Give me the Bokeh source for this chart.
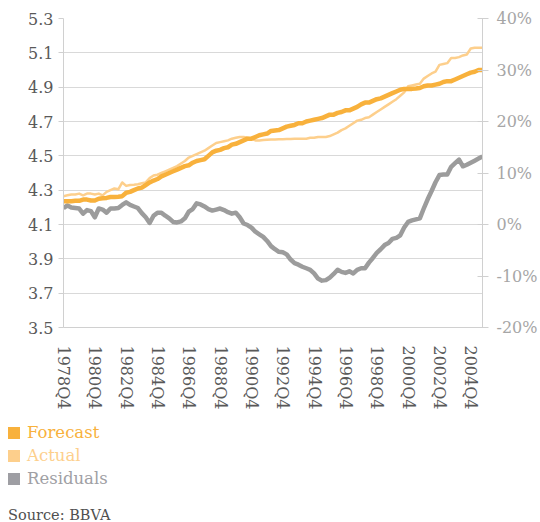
from bokeh.plotting import figure
from bokeh.models import Range1d, LinearAxis, FixedTicker, PrintfTickFormatter, Div
from bokeh.layouts import column
from bokeh.embed import file_html
from bokeh.resources import INLINE

# ---- data (quarterly, 1978Q4 .. 2005Q3) ----
forecast = [4.236, 4.236, 4.236, 4.238, 4.238, 4.245, 4.245, 4.24, 4.24, 4.25,
            4.253, 4.255, 4.26, 4.26, 4.262, 4.265, 4.285, 4.29, 4.30,
            4.31, 4.315, 4.33, 4.345, 4.356, 4.365, 4.38, 4.39, 4.40, 4.41,
            4.42, 4.43, 4.44, 4.445, 4.46, 4.47, 4.475, 4.48, 4.50, 4.52,
            4.53, 4.535, 4.545, 4.55, 4.565, 4.57, 4.58, 4.59, 4.60, 4.60,
            4.61, 4.62, 4.625, 4.63, 4.645, 4.648,
            4.65, 4.66, 4.67, 4.675, 4.68, 4.69, 4.69, 4.70, 4.705, 4.71,
            4.715, 4.72, 4.73, 4.74, 4.74, 4.75, 4.755, 4.765, 4.765, 4.775,
            4.785, 4.80, 4.81, 4.81, 4.82, 4.83, 4.835, 4.845, 4.855, 4.865,
            4.875, 4.885, 4.89, 4.89, 4.89, 4.892,
            4.895, 4.905, 4.91, 4.91, 4.915, 4.92, 4.93, 4.935, 4.935, 4.945,
            4.955, 4.965, 4.975, 4.985, 4.99, 5.0, 5.0]

actual = [4.265, 4.27, 4.275, 4.275, 4.28, 4.27, 4.28, 4.28, 4.275, 4.28,
          4.27, 4.29, 4.30, 4.31, 4.305, 4.345, 4.325, 4.33, 4.332,
          4.335, 4.34, 4.345, 4.37, 4.385, 4.39, 4.40, 4.41, 4.42, 4.43,
          4.44, 4.455, 4.47, 4.49, 4.50, 4.51, 4.52, 4.53, 4.545, 4.56,
          4.575, 4.58, 4.585, 4.59, 4.60, 4.605, 4.61, 4.61, 4.605, 4.60,
          4.59, 4.59, 4.592, 4.594, 4.595, 4.595,
          4.596, 4.597, 4.598, 4.598, 4.60, 4.60, 4.60, 4.60, 4.605, 4.605,
          4.61, 4.61, 4.61, 4.615, 4.625, 4.635, 4.65, 4.66, 4.675, 4.69,
          4.705, 4.71, 4.72, 4.725, 4.74, 4.755, 4.77, 4.785, 4.80, 4.815,
          4.83, 4.85, 4.87, 4.905, 4.91, 4.915,
          4.92, 4.95, 4.965, 4.98, 4.99, 5.03, 5.035, 5.04, 5.07, 5.07,
          5.075, 5.085, 5.09, 5.125, 5.13, 5.13, 5.13]

residuals = [3.2, 3.7, 3.3, 3.2, 3.1, 2.1, 2.8, 2.6, 1.4, 3.1,
             2.9, 2.3, 3.1, 3.1, 3.2, 3.8, 4.3, 3.8, 3.5,
             3.2, 2.2, 1.4, 0.3, 1.7, 2.3, 2.3, 1.7, 1.2, 0.5,
             0.4, 0.6, 1.2, 2.5, 3.0, 4.1, 3.9, 3.5, 3.0, 2.7,
             2.9, 3.1, 2.8, 2.4, 2.1, 2.3, 1.4, 0.2, -0.1, -0.6,
             -1.4, -1.9, -2.4, -3.2, -4.2, -4.8,
             -5.3, -5.4, -5.8, -6.8, -7.5, -7.8, -8.2, -8.5, -8.8, -9.5,
             -10.5, -10.9, -10.8, -10.3, -9.6, -8.8, -9.2, -9.4, -9.1, -9.5,
             -8.8, -8.5, -8.5, -7.4, -6.5, -5.5, -4.8, -4.0, -3.6, -2.8,
             -2.6, -2.1, -0.6, 0.5, 0.8, 1.0,
             1.2, 3.1, 4.9, 6.5, 8.2, 9.6, 9.7, 9.7, 11.2, 11.9,
             12.6, 11.3, 11.6, 12.0, 12.4, 12.8, 13.2]

x_ticks = [0, 8, 16, 24, 32, 40, 48, 56, 64, 72, 80, 88, 96, 104]
x_tick_labels = ["1978Q4", "1980Q4", "1982Q4", "1984Q4", "1986Q4", "1988Q4",
                 "1990Q4", "1992Q4", "1994Q4", "1996Q4", "1998Q4", "2000Q4",
                 "2002Q4", "2004Q4"]
left_ticks = [3.5, 3.7, 3.9, 4.1, 4.3, 4.5, 4.7, 4.9, 5.1, 5.3]
right_ticks = [-20, -10, 0, 10, 20, 30, 40]
right_tick_labels = ["-20%", "-10%", "0%", "10%", "20%", "30%", "40%"]

series_names = ["Forecast", "Actual", "Residuals"]
series_colors = ["#F8B13C", "#FDCF8C", "#9C9C9C"]

idx = list(range(len(forecast)))
FONT = "DejaVu Serif"

p = figure(width=540, height=414, output_backend="svg", toolbar_location=None,
           x_range=Range1d(0, len(forecast) - 1), y_range=Range1d(3.5, 5.3),
           min_border_left=63, min_border_right=56, min_border_top=18,
           min_border_bottom=87)
p.extra_y_ranges = {"res": Range1d(-20, 40)}
p.outline_line_color = None
p.background_fill_color = "white"
p.border_fill_color = "white"
p.xgrid.visible = False
p.ygrid.grid_line_color = "#D9D9D9"
p.ygrid.grid_line_width = 1

# left axis
p.yaxis.ticker = FixedTicker(ticks=left_ticks)
p.yaxis.formatter = PrintfTickFormatter(format="%.1f")
p.yaxis.axis_line_color = "#D0D0D0"
p.yaxis.major_tick_line_color = "#D0D0D0"
p.yaxis.major_tick_out = 5
p.yaxis.major_tick_in = 0
p.yaxis.minor_tick_line_color = None
p.yaxis.major_label_standoff = 5
p.yaxis.major_label_text_font = FONT
p.yaxis.major_label_text_font_size = "16px"
p.yaxis.major_label_text_color = "#595959"

# bottom axis
p.xaxis.ticker = FixedTicker(ticks=x_ticks)
p.xaxis.major_label_overrides = {t: l for t, l in zip(x_ticks, x_tick_labels)}
p.xaxis.major_label_orientation = "vertical"
p.xaxis.axis_line_color = "#D0D0D0"
p.xaxis.major_tick_line_color = None
p.xaxis.minor_tick_line_color = None
p.xaxis.major_label_standoff = 12
p.xaxis.major_label_text_font = FONT
p.xaxis.major_label_text_font_size = "16px"
p.xaxis.major_label_text_color = "#595959"

# right axis
raxis = LinearAxis(y_range_name="res", ticker=FixedTicker(ticks=right_ticks),
                   major_label_overrides={t: l for t, l in zip(right_ticks, right_tick_labels)})
raxis.axis_line_color = "#D0D0D0"
raxis.major_tick_line_color = "#D0D0D0"
raxis.major_tick_in = 5
raxis.major_tick_out = 6
raxis.minor_tick_line_color = None
raxis.major_label_standoff = 8
raxis.major_label_text_font = FONT
raxis.major_label_text_font_size = "16px"
raxis.major_label_text_color = "#A6A6A6"
p.add_layout(raxis, "right")

p.line(idx, residuals, y_range_name="res", color=series_colors[2],
       line_width=4.5, line_join="round")
p.line(idx, actual, color=series_colors[1], line_width=2.5, line_join="round")
p.line(idx, forecast, color=series_colors[0], line_width=4.5, line_join="round")

rows = ""
row_heights = [23, 23, 24]
for name, col, h in zip(series_names, series_colors, row_heights):
    txt_col = "#A0A0A4" if name == "Residuals" else col
    sq_col = "#9E9EA3" if name == "Residuals" else col
    rows += ('<div style="height:%dpx;line-height:%dpx;font-size:16.5px;'
             'white-space:nowrap;color:%s;padding-left:8px;">'
             '<span style="display:inline-block;width:12px;height:12px;'
             'background:%s;margin-right:7px;vertical-align:-1px;"></span>%s</div>'
             % (h, h, txt_col, sq_col, name))
source = ('<div style="margin-top:16px;height:16px;line-height:16px;font-size:14.5px;'
          'color:#505050;white-space:nowrap;padding-left:8px;">Source: BBVA</div>')
html = ('<div style="font-family:\'DejaVu Serif\';padding-top:7px;">'
        + rows + source + '</div>')
div = Div(text=html, width=540, margin=(0, 0, 0, 0))

layout = column(p, div, spacing=0)
open("out.html", "w").write(file_html(layout, INLINE))
